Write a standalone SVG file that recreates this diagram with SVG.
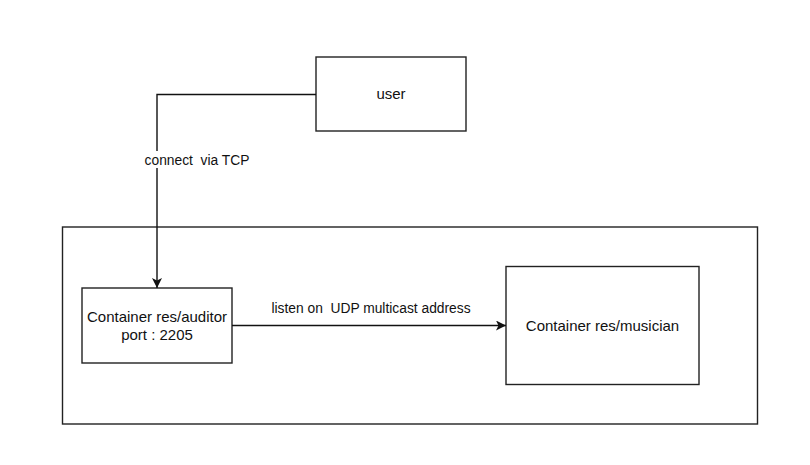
<svg xmlns="http://www.w3.org/2000/svg" width="810" height="465" viewBox="0 0 810 465">
<style>
.box{fill:#fff;stroke:#222;stroke-width:1.4}
.t{font-family:"Liberation Sans",Arial,sans-serif;font-size:15px;fill:#111;text-anchor:middle;white-space:pre}
.e{font-family:"Liberation Sans",Arial,sans-serif;font-size:13.8px;fill:#111;text-anchor:middle;white-space:pre}
.edge{fill:none;stroke:#111;stroke-width:1.4}
</style>
<defs>
<marker id="ah" viewBox="0 0 10 10" refX="10" refY="5" markerWidth="10" markerHeight="10" markerUnits="userSpaceOnUse" orient="auto">
<path d="M0,0 L10,5 L0,10 L2.5,5 Z" fill="#111"/>
</marker>
</defs>
<rect width="810" height="465" fill="#fff"/>
<g id="outer"><rect class="box" x="62.5" y="227" width="695" height="197"/></g>
<g id="user"><rect class="box" x="316" y="57" width="150" height="74"/><text class="t" x="391" y="99">user</text></g>
<g id="auditor"><rect class="box" x="82" y="288" width="150" height="75"/><text class="t" x="157" y="322">Container res/auditor</text><text class="t" x="157" y="339.5">port : 2205</text></g>
<g id="musician"><rect class="box" x="506" y="266.5" width="193" height="118"/><text class="t" x="602.5" y="331">Container res/musician</text></g>
<g id="connectors">
<path class="edge" d="M316,94.5 H157 V288" marker-end="url(#ah)"/>
<rect x="143" y="151" width="108" height="17" fill="#fff"/>
<text class="e" x="197" y="165" xml:space="preserve">connect  via TCP</text>
<path class="edge" d="M232,325.5 H506" marker-end="url(#ah)"/>
<text class="e" x="371" y="313" xml:space="preserve">listen on  UDP multicast address</text>
</g>
</svg>
